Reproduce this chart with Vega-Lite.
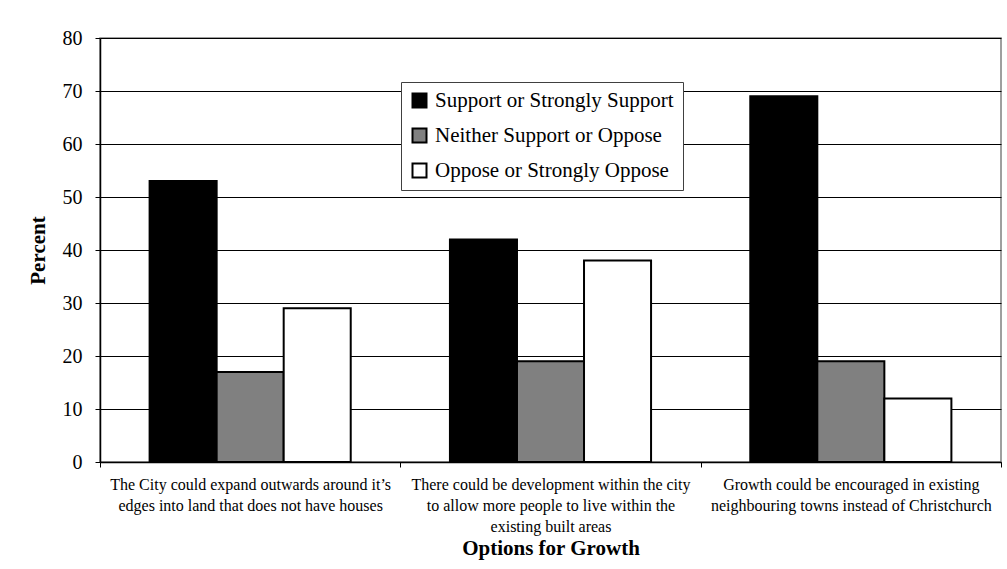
{
  "$schema": "https://vega.github.io/schema/vega-lite/v6.json",
  "autosize": "none",
  "width": 901,
  "height": 424,
  "padding": {"left": 100, "top": 38, "right": 6, "bottom": 107},
  "background": "white",
  "config": {
    "font": "Liberation Serif",
    "view": {"stroke": "#808080", "strokeWidth": 1.5}
  },
  "data": {
    "values": [
      {"option": "The City could expand outwards around it’s|edges into land that does not have houses", "response": "Support or Strongly Support", "percent": 53},
      {"option": "The City could expand outwards around it’s|edges into land that does not have houses", "response": "Neither Support or Oppose", "percent": 17},
      {"option": "The City could expand outwards around it’s|edges into land that does not have houses", "response": "Oppose or  Strongly Oppose", "percent": 29},
      {"option": "There could be development within the city|to allow more people to live within the|existing built areas", "response": "Support or Strongly Support", "percent": 42},
      {"option": "There could be development within the city|to allow more people to live within the|existing built areas", "response": "Neither Support or Oppose", "percent": 19},
      {"option": "There could be development within the city|to allow more people to live within the|existing built areas", "response": "Oppose or  Strongly Oppose", "percent": 38},
      {"option": "Growth could be encouraged in existing|neighbouring towns instead of Christchurch", "response": "Support or Strongly Support", "percent": 69},
      {"option": "Growth could be encouraged in existing|neighbouring towns instead of Christchurch", "response": "Neither Support or Oppose", "percent": 19},
      {"option": "Growth could be encouraged in existing|neighbouring towns instead of Christchurch", "response": "Oppose or  Strongly Oppose", "percent": 12}
    ]
  },
  "mark": {"type": "bar", "stroke": "black", "strokeWidth": 2},
  "encoding": {
    "x": {
      "field": "option",
      "type": "nominal",
      "sort": null,
      "scale": {"paddingInner": 0, "paddingOuter": 0},
      "axis": {
        "title": "Options for Growth",
        "titleFont": "Liberation Serif",
        "titleFontSize": 21,
        "titleFontWeight": "bold",
        "titleColor": "black",
        "titlePadding": 3,
        "labelExpr": "split(datum.label, '|')",
        "labelAngle": 0,
        "labelFont": "Liberation Serif",
        "labelFontSize": 16,
        "labelColor": "black",
        "labelLineHeight": 21,
        "labelPadding": 9,
        "labelLimit": 0,
        "tickBand": "extent",
        "tickColor": "black",
        "tickSize": 5,
        "domainColor": "black",
        "domainWidth": 1.5,
        "grid": false
      }
    },
    "xOffset": {
      "field": "response",
      "type": "nominal",
      "sort": ["Support or Strongly Support", "Neither Support or Oppose", "Oppose or  Strongly Oppose"],
      "scale": {"paddingInner": 0, "paddingOuter": 0.74}
    },
    "y": {
      "field": "percent",
      "type": "quantitative",
      "scale": {"domain": [0, 80]},
      "axis": {
        "title": "Percent",
        "titleFont": "Liberation Serif",
        "titleFontSize": 21,
        "titleFontWeight": "bold",
        "titleColor": "black",
        "titlePadding": 14,
        "values": [0, 10, 20, 30, 40, 50, 60, 70, 80],
        "labelFont": "Liberation Serif",
        "labelFontSize": 20,
        "labelColor": "black",
        "labelPadding": 13,
        "tickColor": "black",
        "tickSize": 5,
        "domainColor": "black",
        "domainWidth": 1.5,
        "grid": true,
        "gridColor": "black",
        "gridWidth": 1,
        "gridOpacity": 1
      }
    },
    "fill": {
      "field": "response",
      "type": "nominal",
      "sort": ["Support or Strongly Support", "Neither Support or Oppose", "Oppose or  Strongly Oppose"],
      "scale": {
        "domain": ["Support or Strongly Support", "Neither Support or Oppose", "Oppose or  Strongly Oppose"],
        "range": ["#000000", "#808080", "#ffffff"]
      },
      "legend": {
        "title": null,
        "orient": "none",
        "legendX": 301,
        "legendY": 44,
        "direction": "vertical",
        "symbolType": "square",
        "symbolSize": 196,
        "symbolStrokeColor": "black",
        "symbolStrokeWidth": 2,
        "symbolOpacity": 1,
        "labelFont": "Liberation Serif",
        "labelFontSize": 21,
        "labelColor": "black",
        "labelOffset": 5,
        "labelLimit": 0,
        "rowPadding": 12,
        "padding": 8,
        "strokeColor": "#404040",
        "fillColor": "white"
      }
    }
  }
}
